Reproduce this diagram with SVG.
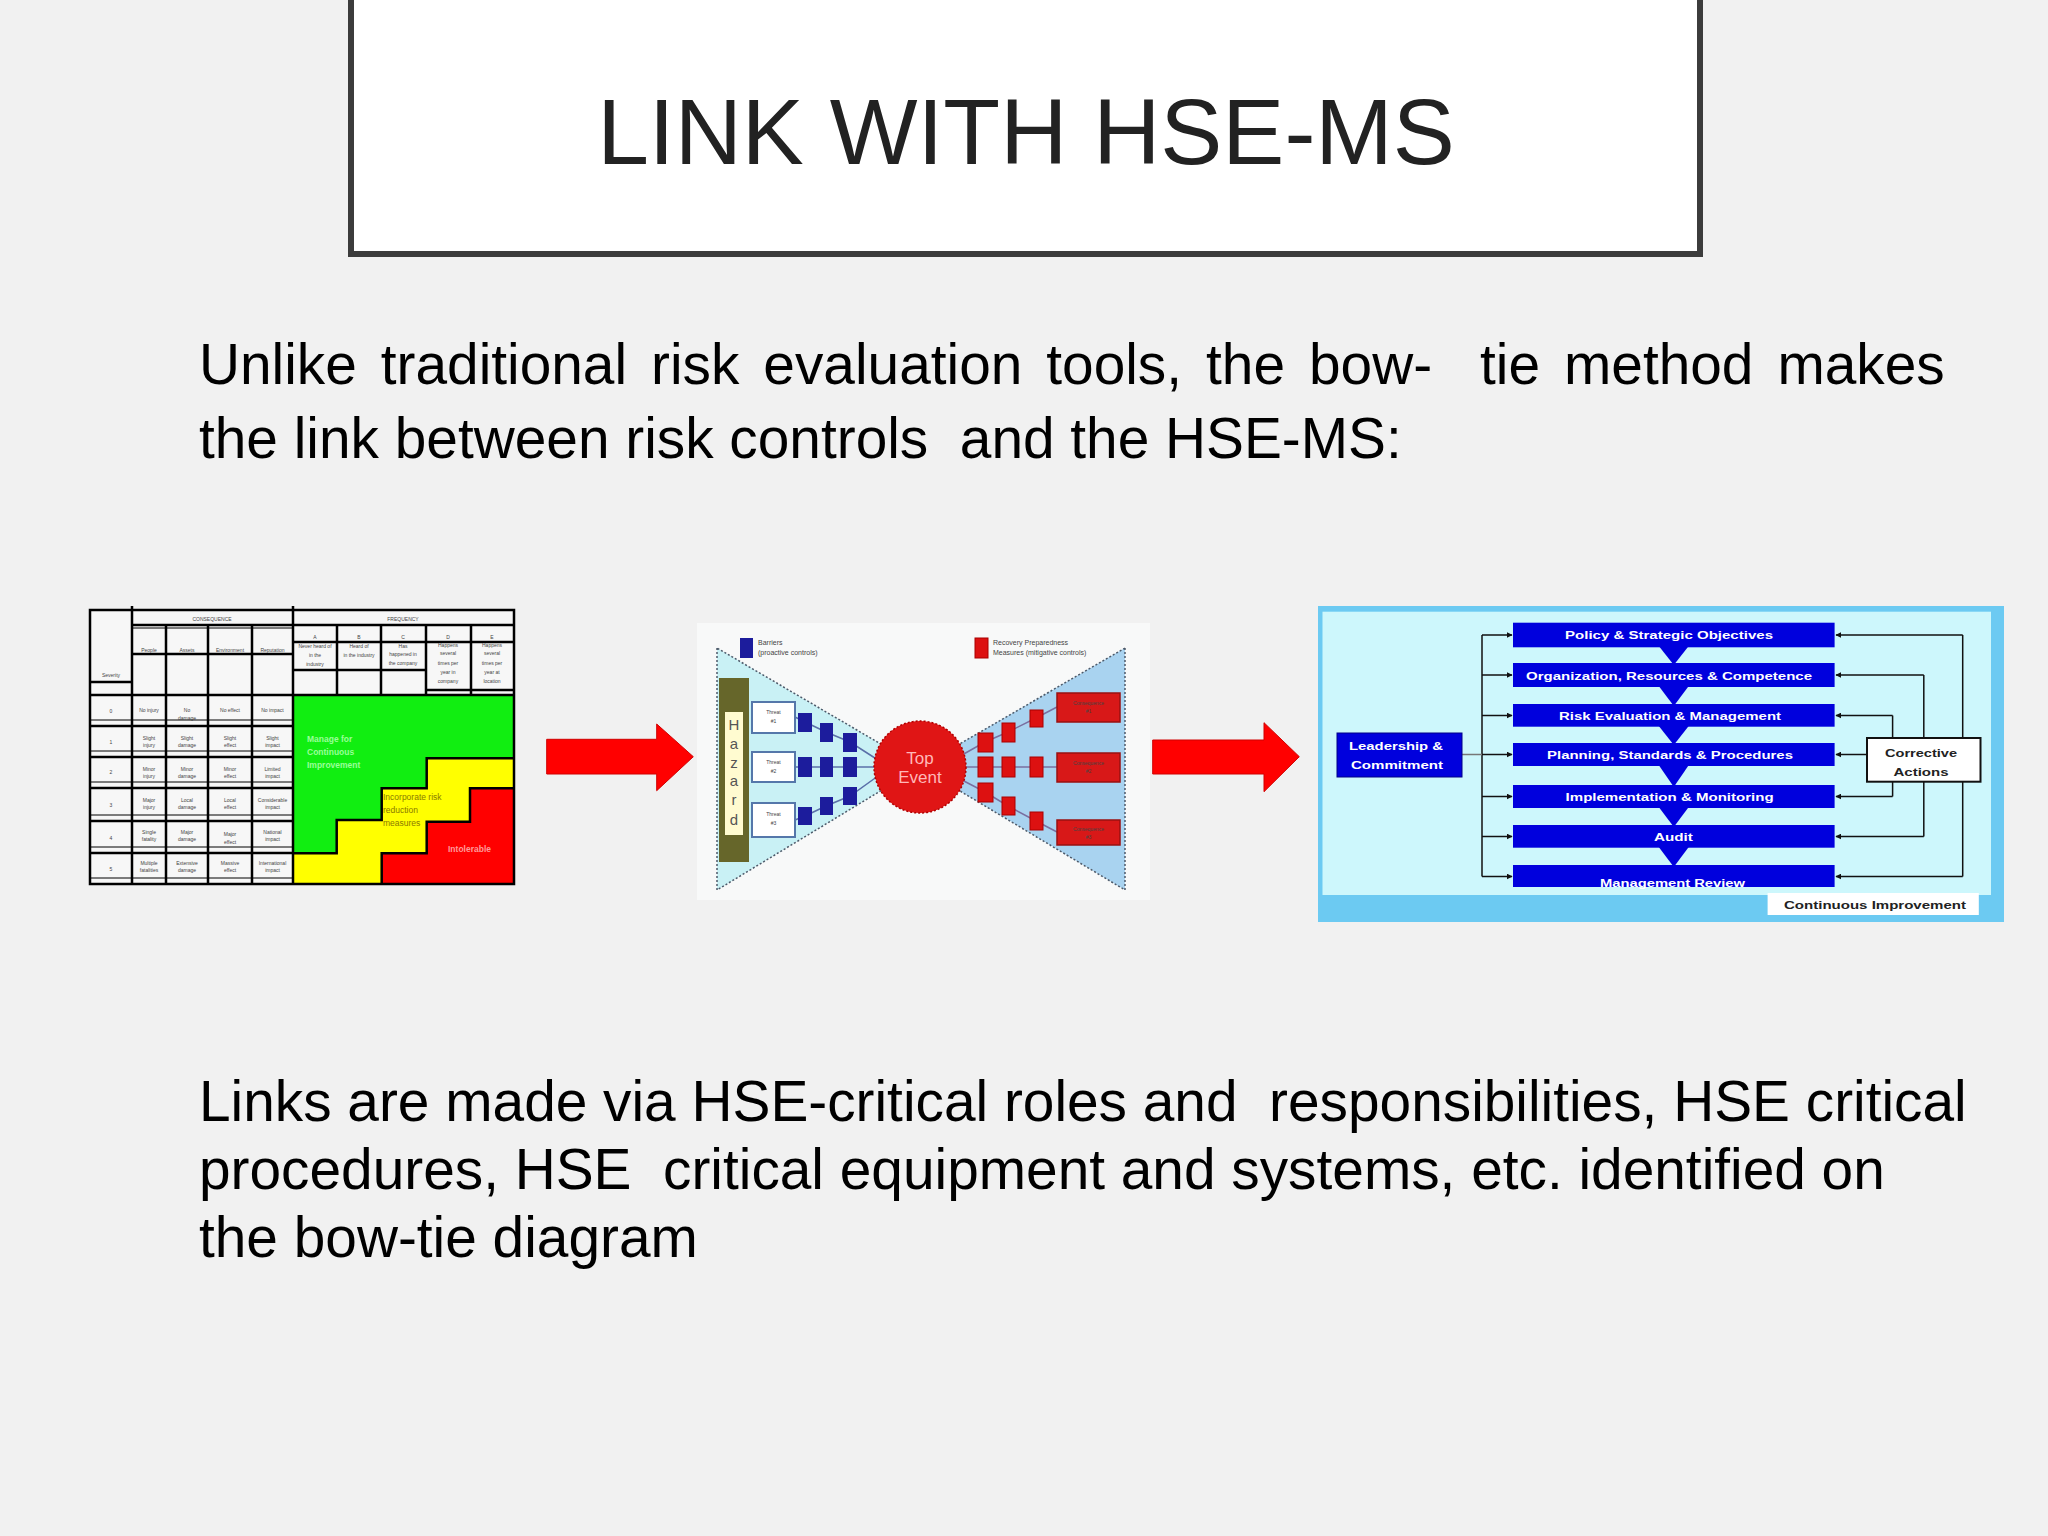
<svg xmlns="http://www.w3.org/2000/svg" width="2048" height="1536" viewBox="0 0 2048 1536">
<defs>
<style>
.sans{font-family:'Liberation Sans',Arial,sans-serif}
.body{font-family:'Liberation Sans',Arial,sans-serif;font-size:56.8px;fill:#000}
.tiny{font-family:'Liberation Sans',Arial,sans-serif;font-size:5px;fill:#444;text-anchor:middle}
.grid{stroke:#000;stroke-width:2.5;fill:none}
.thin{stroke:#000;stroke-width:1;fill:none}
.navy{fill:#1c1c9c}
.rsq{fill:#dd1111;stroke:#aa0000;stroke-width:1}
.cons{fill:#d81818;stroke:#991010;stroke-width:1.5}
.thr{fill:#fff;stroke:#5577aa;stroke-width:2}
.leg{font-family:'Liberation Sans',Arial,sans-serif;font-size:7px;fill:#444}
.ms{fill:#0000dd}
.mst{font-family:'Liberation Sans',Arial,sans-serif;font-weight:bold;font-size:11.5px;fill:#fff;text-anchor:middle}
.dk{font-family:'Liberation Sans',Arial,sans-serif;font-weight:bold;font-size:11px;fill:#222;text-anchor:middle}
.ln{stroke:#111;stroke-width:1.5;fill:none}
.bl{stroke:#5a6fa8;stroke-width:1.5;fill:none}
.rl{stroke:#7a6fa0;stroke-width:1.5;fill:none}
.red{fill:#ff0000;stroke:#d00000;stroke-width:1}
</style>
<marker id="ah" viewBox="0 0 10 10" refX="9" refY="5" markerWidth="6" markerHeight="6" orient="auto" markerUnits="userSpaceOnUse">
<path d="M0,0 L10,5 L0,10 Z" fill="#111"/>
</marker>
</defs>
<rect x="0" y="0" width="2048" height="1536" fill="#f1f1f1"/>

<g id="title">
<rect x="351" y="-10" width="1349" height="264" fill="#ffffff" stroke="#3c3c3c" stroke-width="6"/>
<text x="1026" y="164" class="sans" font-size="93" fill="#222" text-anchor="middle">LINK WITH HSE-MS</text>
</g>

<g id="para1">
<text x="199" y="384" class="body" word-spacing="8.2" xml:space="preserve">Unlike traditional risk evaluation tools, the bow-  tie method makes</text>
<text x="199" y="458" class="body" xml:space="preserve">the link between risk controls  and the HSE-MS:</text>
</g>

<g id="para2">
<text x="199" y="1121" class="body" xml:space="preserve">Links are made via HSE-critical roles and  responsibilities, HSE critical</text>
<text x="199" y="1189" class="body" xml:space="preserve">procedures, HSE  critical equipment and systems, etc. identified on</text>
<text x="199" y="1257" class="body">the bow-tie diagram</text>
</g>

<g id="risk-matrix">
<rect x="90" y="610" width="424" height="274" fill="#f7f7f7"/>
<rect x="293" y="695" width="221" height="189" fill="#11ee11"/>
<path d="M293,853.3 H336.7 V820 H381.7 V788.3 H426.7 V758.3 H514 V884 H293 Z" fill="#ffff00"/>
<path d="M381.7,884 V853.3 H426.7 V821.7 H470 V788.3 H514 V884 Z" fill="#ff0000"/>
<path class="grid" d="M293,853.3 H336.7 V820 H381.7 V788.3 H426.7 V758.3 H514 M381.7,884 V853.3 H426.7 V821.7 H470 V788.3 H514"/>
<rect x="90" y="610" width="424" height="274" class="grid"/>
<path class="grid" d="M132,606 V884 M293,606 V884 M166,625 V884 M208,625 V884 M252,625 V884 M337,625 V695 M381,625 V695 M426,625 V695 M471,625 V695 M132,625 H514 M90,695 H514 M132,654 H293 M293,642 H514 M293,670 H426 M426,690 H514 M90,682 H132 M90,726 H293 M90,757 H293 M90,788 H293 M90,821 H293 M90,853 H293"/>
<path class="thin" d="M90,720 H293 M90,751 H293 M90,782 H293 M90,815 H293 M90,847 H293 M90,878 H293 M132,628 H293"/>
<text x="212" y="621" class="tiny" font-size="7">CONSEQUENCE</text>
<text x="403" y="621" class="tiny" font-size="7">FREQUENCY</text>
<text x="149" y="652" class="tiny">People</text>
<text x="187" y="652" class="tiny">Assets</text>
<text x="230" y="652" class="tiny">Environment</text>
<text x="272.5" y="652" class="tiny">Reputation</text>
<text x="111" y="677" class="tiny" font-size="6.5">Severity</text>
<text x="315" y="639" class="tiny" font-size="7.5">A</text>
<text x="359" y="639" class="tiny" font-size="7.5">B</text>
<text x="403" y="639" class="tiny" font-size="7.5">C</text>
<text x="448" y="639" class="tiny" font-size="7.5">D</text>
<text x="492" y="639" class="tiny" font-size="7.5">E</text>
<text class="tiny" x="315" y="648">Never heard of<tspan x="315" dy="9">in the</tspan><tspan x="315" dy="9">industry</tspan></text>
<text class="tiny" x="359" y="648">Heard of<tspan x="359" dy="9">in the industry</tspan></text>
<text class="tiny" x="403" y="648">Has<tspan x="403" dy="8">happened in</tspan><tspan x="403" dy="9">the company</tspan></text>
<text class="tiny" x="448" y="647">Happens<tspan x="448" dy="8">several</tspan><tspan x="448" dy="10">times per</tspan><tspan x="448" dy="9">year in</tspan><tspan x="448" dy="9">company</tspan></text>
<text class="tiny" x="492" y="647">Happens<tspan x="492" dy="8">several</tspan><tspan x="492" dy="10">times per</tspan><tspan x="492" dy="9">year at</tspan><tspan x="492" dy="9">location</tspan></text>
<g class="tiny" font-size="7">
<text x="111" y="713">0</text><text x="111" y="744">1</text><text x="111" y="774">2</text>
<text x="111" y="807">3</text><text x="111" y="840">4</text><text x="111" y="871">5</text>
</g>
<g class="tiny">
<text x="149" y="712">No injury</text><text x="187" y="712">No<tspan x="187" dy="8">damage</tspan></text><text x="230" y="712">No effect</text><text x="272.5" y="712">No impact</text>
<text x="149" y="740">Slight<tspan x="149" dy="7">injury</tspan></text><text x="187" y="740">Slight<tspan x="187" dy="7">damage</tspan></text><text x="230" y="740">Slight<tspan x="230" dy="7">effect</tspan></text><text x="272.5" y="740">Slight<tspan x="272.5" dy="7">impact</tspan></text>
<text x="149" y="771">Minor<tspan x="149" dy="7">injury</tspan></text><text x="187" y="771">Minor<tspan x="187" dy="7">damage</tspan></text><text x="230" y="771">Minor<tspan x="230" dy="7">effect</tspan></text><text x="272.5" y="771">Limited<tspan x="272.5" dy="7">impact</tspan></text>
<text x="149" y="802">Major<tspan x="149" dy="7">injury</tspan></text><text x="187" y="802">Local<tspan x="187" dy="7">damage</tspan></text><text x="230" y="802">Local<tspan x="230" dy="7">effect</tspan></text><text x="272.5" y="802">Considerable<tspan x="272.5" dy="7">impact</tspan></text>
<text x="149" y="834">Single<tspan x="149" dy="7">fatality</tspan></text><text x="187" y="834">Major<tspan x="187" dy="7">damage</tspan></text><text x="230" y="836">Major<tspan x="230" dy="8">effect</tspan></text><text x="272.5" y="834">National<tspan x="272.5" dy="7">impact</tspan></text>
<text x="149" y="865">Multiple<tspan x="149" dy="7">fatalities</tspan></text><text x="187" y="865">Extensive<tspan x="187" dy="7">damage</tspan></text><text x="230" y="865">Massive<tspan x="230" dy="7">effect</tspan></text><text x="272.5" y="865">International<tspan x="272.5" dy="7">impact</tspan></text>
</g>
<text class="sans" font-size="8.5" font-weight="bold" fill="#99ff99" x="307" y="742">Manage for<tspan x="307" dy="13">Continuous</tspan><tspan x="307" dy="13">Improvement</tspan></text>
<text class="sans" font-size="8.5" fill="#8a7a00" x="383" y="800">Incorporate risk<tspan x="383" dy="13">reduction</tspan><tspan x="383" dy="13">measures</tspan></text>
<text class="sans" font-size="8.5" font-weight="bold" fill="#ff9a9a" x="448" y="852">Intolerable</text>
</g>

<g id="arrow-1">
<path class="red" d="M546.7,739.3 H656.7 V724 L693.3,756.7 L656.7,790.7 V774 H546.7 Z"/>
</g>
<g id="arrow-2">
<path class="red" d="M1152.7,740 H1264 V722.7 L1299.3,756.7 L1264,791.7 V774 H1152.7 Z"/>
</g>

<g id="bowtie">
<rect x="697" y="623" width="453" height="277" fill="#f8f9f9"/>
<polygon points="717,648 717,890 920,767" fill="#c9f1f5" stroke="#4d5a6a" stroke-width="1.5" stroke-dasharray="2 2"/>
<polygon points="1125,648 1125,890 920,767" fill="#a9d3f0" stroke="#4d5a6a" stroke-width="1.5" stroke-dasharray="2 2"/>
<rect x="740" y="638" width="13" height="20" class="navy"/>
<text class="leg" x="758" y="645">Barriers<tspan x="758" dy="10">(proactive controls)</tspan></text>
<rect x="975" y="638" width="13" height="20" class="rsq"/>
<text class="leg" x="993" y="645">Recovery Preparedness<tspan x="993" dy="10">Measures (mitigative controls)</tspan></text>
<g id="hazard">
<rect x="719" y="678" width="30" height="184" fill="#66662a"/>
<rect x="725" y="712" width="18" height="123" fill="#fffbd0"/>
<g class="sans" font-size="15" fill="#555" text-anchor="middle">
<text x="734" y="730">H</text><text x="734" y="749">a</text><text x="734" y="768">z</text>
<text x="734" y="786">a</text><text x="734" y="805">r</text><text x="734" y="825">d</text>
</g>
</g>
<g id="bowtie-links">
<polyline class="bl" points="795,717 805,722 826,732 850,742 878,760"/>
<polyline class="bl" points="795,767 874,767"/>
<polyline class="bl" points="795,820 805,816 826,806 850,796 878,776"/>
<polyline class="rl" points="962,755 985,742 1008,732 1036,718 1057,707"/>
<polyline class="rl" points="966,767 1057,767"/>
<polyline class="rl" points="962,780 985,792 1008,806 1036,821 1057,832"/>
</g>
<g id="threats">
<rect x="752" y="702" width="43" height="31" class="thr"/>
<rect x="752" y="752" width="43" height="30" class="thr"/>
<rect x="752" y="803" width="43" height="34" class="thr"/>
<g class="tiny" font-size="6.5" fill="#333">
<text x="773.5" y="714">Threat<tspan x="773.5" dy="9">#1</tspan></text>
<text x="773.5" y="764">Threat<tspan x="773.5" dy="9">#2</tspan></text>
<text x="773.5" y="816">Threat<tspan x="773.5" dy="9">#3</tspan></text>
</g>
</g>
<g id="barriers">
<rect x="798" y="713" width="14" height="19" class="navy"/>
<rect x="820" y="723" width="13" height="19" class="navy"/>
<rect x="843" y="733" width="14" height="19" class="navy"/>
<rect x="798" y="757" width="14" height="20" class="navy"/>
<rect x="820" y="757" width="13" height="20" class="navy"/>
<rect x="843" y="757" width="14" height="20" class="navy"/>
<rect x="798" y="807" width="14" height="18" class="navy"/>
<rect x="820" y="797" width="13" height="18" class="navy"/>
<rect x="843" y="787" width="14" height="18" class="navy"/>
</g>
<g id="top-event">
<circle cx="920" cy="767" r="46" fill="#e01515" stroke="#b00000" stroke-width="1.5" stroke-dasharray="2 2"/>
<text x="920" y="764" class="sans" font-size="17" fill="#ffb8b8" text-anchor="middle">Top</text>
<text x="920" y="783" class="sans" font-size="17" fill="#ffb8b8" text-anchor="middle">Event</text>
</g>
<g id="recovery">
<rect x="978" y="733" width="15" height="19" class="rsq"/>
<rect x="1002" y="723" width="13" height="19" class="rsq"/>
<rect x="1030" y="710" width="13" height="17" class="rsq"/>
<rect x="978" y="757" width="15" height="20" class="rsq"/>
<rect x="1002" y="757" width="13" height="20" class="rsq"/>
<rect x="1030" y="757" width="13" height="20" class="rsq"/>
<rect x="978" y="783" width="15" height="19" class="rsq"/>
<rect x="1002" y="797" width="13" height="18" class="rsq"/>
<rect x="1030" y="812" width="13" height="18" class="rsq"/>
</g>
<g id="consequences">
<rect x="1057" y="693" width="63" height="29" class="cons"/>
<rect x="1057" y="753" width="63" height="29" class="cons"/>
<rect x="1057" y="820" width="63" height="25" class="cons"/>
<g class="tiny" font-size="6" fill="#ffaaaa">
<text x="1088.5" y="705">Consequence<tspan x="1088.5" dy="8">#1</tspan></text>
<text x="1088.5" y="765">Consequence<tspan x="1088.5" dy="8">#2</tspan></text>
<text x="1088.5" y="831">Consequence<tspan x="1088.5" dy="8">#3</tspan></text>
</g>
</g>
</g>

<g id="hse-ms">
<rect x="1318" y="606" width="686" height="316" fill="#6ccaf2"/>
<rect x="1322.5" y="611.7" width="668.5" height="283.3" fill="#cdf7fc"/>
<g id="ms-connectors">
<path class="ln" d="M1482,635 V876.5"/>
<path class="ln" marker-end="url(#ah)" d="M1482,635 H1512"/>
<path class="ln" marker-end="url(#ah)" d="M1482,675 H1512"/>
<path class="ln" marker-end="url(#ah)" d="M1482,715.5 H1512"/>
<path class="ln" marker-end="url(#ah)" d="M1482,754.5 H1512"/>
<path class="ln" marker-end="url(#ah)" d="M1482,796.5 H1512"/>
<path class="ln" marker-end="url(#ah)" d="M1482,836.5 H1512"/>
<path class="ln" marker-end="url(#ah)" d="M1482,876.5 H1512"/>
<path d="M1462,754.5 H1482" stroke="#777" stroke-width="1.5"/>
<path class="ln" d="M1962.7,635 V876.5 M1923.8,675 V836.5 M1892.6,715.5 V796.5"/>
<path class="ln" marker-end="url(#ah)" d="M1962.7,635 H1836"/>
<path class="ln" marker-end="url(#ah)" d="M1962.7,876.5 H1836"/>
<path class="ln" marker-end="url(#ah)" d="M1923.8,675 H1836"/>
<path class="ln" marker-end="url(#ah)" d="M1923.8,836.5 H1836"/>
<path class="ln" marker-end="url(#ah)" d="M1892.6,715.5 H1836"/>
<path class="ln" marker-end="url(#ah)" d="M1892.6,796.5 H1836"/>
<path class="ln" marker-end="url(#ah)" d="M1867,754.5 H1836"/>
</g>
<g id="ms-steps">
<polygon class="ms" points="1658,645 1689.5,645 1673.8,665"/>
<polygon class="ms" points="1658,685 1689.5,685 1673.8,706"/>
<polygon class="ms" points="1658,725 1689.5,725 1673.8,745"/>
<polygon class="ms" points="1658,764 1689.5,764 1673.8,787"/>
<polygon class="ms" points="1658,806 1689.5,806 1673.8,827"/>
<polygon class="ms" points="1658,846 1689.5,846 1673.8,867"/>
<rect class="ms" x="1513" y="622.7" width="321.6" height="24.6"/>
<rect class="ms" x="1513" y="663" width="321.6" height="24"/>
<rect class="ms" x="1513" y="704" width="321.6" height="22.7"/>
<rect class="ms" x="1513" y="743" width="321.6" height="23"/>
<rect class="ms" x="1513" y="785" width="321.6" height="23"/>
<rect class="ms" x="1513" y="825" width="321.6" height="22.7"/>
<rect class="ms" x="1513" y="865" width="321.6" height="22"/>
<text class="mst" x="1669" y="639" textLength="208" lengthAdjust="spacingAndGlyphs">Policy &amp; Strategic Objectives</text>
<text class="mst" x="1669" y="680" textLength="286" lengthAdjust="spacingAndGlyphs">Organization, Resources &amp; Competence</text>
<text class="mst" x="1670" y="720" textLength="222" lengthAdjust="spacingAndGlyphs">Risk Evaluation &amp; Management</text>
<text class="mst" x="1670" y="759" textLength="246" lengthAdjust="spacingAndGlyphs">Planning, Standards &amp; Procedures</text>
<text class="mst" x="1669.6" y="801" textLength="208" lengthAdjust="spacingAndGlyphs">Implementation &amp; Monitoring</text>
<text class="mst" x="1673.4" y="841" textLength="39" lengthAdjust="spacingAndGlyphs">Audit</text>
<text class="mst" x="1672.5" y="887" textLength="145" lengthAdjust="spacingAndGlyphs">Management Review</text>
</g>
<g id="leadership">
<rect x="1337" y="733" width="125" height="44" fill="#0000dd" stroke="#000088" stroke-width="1"/>
<text class="mst" x="1396" y="750" textLength="94" lengthAdjust="spacingAndGlyphs">Leadership &amp;</text>
<text class="mst" x="1397" y="768.5" textLength="92" lengthAdjust="spacingAndGlyphs">Commitment</text>
</g>
<g id="corrective">
<rect x="1867" y="738" width="113.5" height="43.7" fill="#fff" stroke="#111" stroke-width="2"/>
<text class="dk" x="1921" y="757" textLength="72" lengthAdjust="spacingAndGlyphs">Corrective</text>
<text class="dk" x="1921" y="775.5" textLength="55" lengthAdjust="spacingAndGlyphs">Actions</text>
</g>
<g id="continuous">
<rect x="1767.6" y="893" width="211.2" height="22" fill="#fff"/>
<text class="dk" x="1875" y="908.5" textLength="182" lengthAdjust="spacingAndGlyphs">Continuous Improvement</text>
</g>
</g>
</svg>
